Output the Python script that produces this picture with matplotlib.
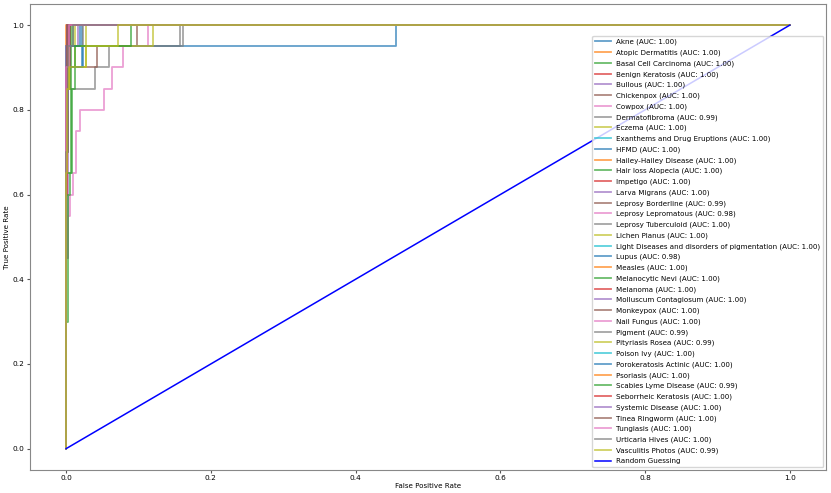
import matplotlib.pyplot as plt

classes = ['Akne', 'Atopic Dermatitis', 'Basal Cell Carcinoma', 'Benign Keratosis', 'Bullous',
           'Chickenpox', 'Cowpox', 'Dermatofibroma', 'Eczema', 'Exanthems and Drug Eruptions',
           'HFMD', 'Hailey-Hailey Disease', 'Hair loss Alopecia', 'Impetigo', 'Larva Migrans',
           'Leprosy Borderline', 'Leprosy Lepromatous', 'Leprosy Tuberculoid', 'Lichen Planus',
           'Light Diseases and disorders of pigmentation', 'Lupus', 'Measles', 'Melanocytic Nevi',
           'Melanoma', 'Molluscum Contagiosum', 'Monkeypox', 'Nail Fungus', 'Pigment',
           'Pityriasis Rosea', 'Poison Ivy', 'Porokeratosis Actinic', 'Psoriasis',
           'Scabies Lyme Disease', 'Seborrheic Keratosis', 'Systemic Disease', 'Tinea Ringworm',
           'Tungiasis', 'Urticaria Hives', 'Vasculitis Photos']

auc = [1.00, 1.00, 1.00, 1.00, 1.00, 1.00, 1.00, 0.99, 1.00, 1.00,
       1.00, 1.00, 1.00, 1.00, 1.00, 0.99, 0.98, 1.00, 1.00, 1.00,
       0.98, 1.00, 1.00, 1.00, 1.00, 1.00, 1.00, 0.99, 0.99, 1.00,
       1.00, 1.00, 0.99, 1.00, 1.00, 1.00, 1.00, 1.00, 0.99]

# roc corner points (fpr, tpr)
fpr = [
    [0, 0, 0.004, 0.004, 0.022, 0.022, 1],
    [0, 0, 0.001, 0.001, 1],
    [0, 0, 0.003, 0.003, 0.009, 0.009, 1],
    [0, 0, 0.002, 0.002, 0.005, 0.005, 1],
    [0, 0, 0.006, 0.006, 0.016, 0.016, 1],
    [0, 0, 0.001, 0.001, 1],
    [0, 0, 0.002, 0.002, 1],
    [0, 0, 0.003, 0.003, 0.04, 0.04, 0.059, 0.059, 0.157, 0.157, 1],
    [0, 0, 0.004, 0.004, 0.012, 0.012, 1],
    [0, 0, 0.001, 0.001, 1],
    [0, 0, 0.002, 0.002, 1],
    [0, 0, 0.001, 0.001, 1],
    [0, 0, 0.004, 0.004, 1],
    [0, 0, 0.001, 0.001, 0.003, 0.003, 1],
    [0, 0, 0.003, 0.003, 1],
    [0, 0, 0.002, 0.002, 0.043, 0.043, 0.098, 0.098, 1],
    [0, 0, 0.003, 0.003, 0.006, 0.006, 0.009, 0.009, 0.014, 0.014, 0.019, 0.019, 0.024, 0.024,
     0.052, 0.052, 0.064, 0.064, 0.078, 0.078, 0.113, 0.113, 1],
    [0, 0, 0.002, 0.002, 0.023, 0.023, 1],
    [0, 0, 0.005, 0.005, 0.028, 0.028, 1],
    [0, 0, 0.002, 0.002, 1],
    [0, 0, 0.002, 0.002, 0.023, 0.023, 0.456, 0.456, 1],
    [0, 0, 1],
    [0, 0, 0.007, 0.007, 1],
    [0, 0, 0.001, 0.001, 1],
    [0, 0, 0.002, 0.002, 0.004, 0.004, 1],
    [0, 0, 0.001, 0.001, 0.005, 0.005, 1],
    [0, 0, 0.003, 0.003, 1],
    [0, 0, 0.001, 0.001, 0.003, 0.003, 0.162, 0.162, 1],
    [0, 0, 0.004, 0.004, 0.12, 0.12, 1],
    [0, 0, 0.003, 0.003, 1],
    [0, 0, 0.001, 0.001, 0.019, 0.019, 1],
    [0, 0, 0.001, 0.001, 1],
    [0, 0, 0.003, 0.003, 0.006, 0.006, 0.008, 0.008, 0.012, 0.012, 0.09, 0.09, 1],
    [0, 0, 0.002, 0.002, 1],
    [0, 0, 0.001, 0.001, 1],
    [0, 0, 0.001, 0.001, 1],
    [0, 0, 0.004, 0.004, 1],
    [0, 0, 0.002, 0.002, 0.01, 0.01, 1],
    [0, 0, 0.001, 0.001, 0.004, 0.004, 0.028, 0.028, 0.072, 0.072, 1],
]
tpr = [
    [0, 0.85, 0.85, 0.9, 0.9, 1, 1],
    [0, 0.95, 0.95, 1, 1],
    [0, 0.9, 0.9, 0.95, 0.95, 1, 1],
    [0, 0.9, 0.9, 0.95, 0.95, 1, 1],
    [0, 0.85, 0.85, 0.95, 0.95, 1, 1],
    [0, 0.9, 0.9, 1, 1],
    [0, 0.95, 0.95, 1, 1],
    [0, 0.7, 0.7, 0.85, 0.85, 0.9, 0.9, 0.95, 0.95, 1, 1],
    [0, 0.85, 0.85, 0.9, 0.9, 1, 1],
    [0, 0.95, 0.95, 1, 1],
    [0, 0.9, 0.9, 1, 1],
    [0, 0.95, 0.95, 1, 1],
    [0, 0.9, 0.9, 1, 1],
    [0, 0.7, 0.7, 0.95, 0.95, 1, 1],
    [0, 0.45, 0.45, 1, 1],
    [0, 0.7, 0.7, 0.9, 0.9, 0.95, 0.95, 1, 1],
    [0, 0.45, 0.45, 0.55, 0.55, 0.6, 0.6, 0.65, 0.65, 0.75, 0.75, 0.8, 0.8, 0.8,
     0.8, 0.85, 0.85, 0.9, 0.9, 0.95, 0.95, 1, 1],
    [0, 0.9, 0.9, 0.95, 0.95, 1, 1],
    [0, 0.85, 0.85, 0.9, 0.9, 1, 1],
    [0, 0.85, 0.85, 1, 1],
    [0, 0.85, 0.85, 0.9, 0.9, 0.95, 0.95, 1, 1],
    [0, 1, 1],
    [0, 0.65, 0.65, 1, 1],
    [0, 0.6, 0.6, 1, 1],
    [0, 0.8, 0.8, 0.95, 0.95, 1, 1],
    [0, 0.75, 0.75, 0.9, 0.9, 1, 1],
    [0, 0.85, 0.85, 1, 1],
    [0, 0.7, 0.7, 0.85, 0.85, 0.95, 0.95, 1, 1],
    [0, 0.85, 0.85, 0.95, 0.95, 1, 1],
    [0, 0.95, 0.95, 1, 1],
    [0, 0.9, 0.9, 0.95, 0.95, 1, 1],
    [0, 0.85, 0.85, 1, 1],
    [0, 0.3, 0.3, 0.6, 0.6, 0.65, 0.65, 0.85, 0.85, 0.95, 0.95, 1, 1],
    [0, 0.9, 0.9, 1, 1],
    [0, 0.95, 0.95, 1, 1],
    [0, 0.7, 0.7, 1, 1],
    [0, 0.9, 0.9, 1, 1],
    [0, 0.7, 0.7, 0.95, 0.95, 1, 1],
    [0, 0.65, 0.65, 0.85, 0.85, 0.9, 0.9, 0.95, 0.95, 1, 1],
]

plt.rcParams['font.size'] = 5.1

fig, ax = plt.subplots(figsize=(8.31, 4.93), dpi=100)
fig.subplots_adjust(left=0.036, right=0.994, bottom=0.047, top=0.992)

for i in range(len(classes)):
    ax.plot(fpr[i], tpr[i], lw=1.3, alpha=0.7,
            label=classes[i] + ' (AUC: ' + format(auc[i], '.2f') + ')')

ax.plot([0, 1], [0, 1], color='blue', lw=1.1, label='Random Guessing')

ax.set_xlim(-0.05, 1.05)
ax.set_ylim(-0.05, 1.05)
ax.set_xlabel('False Positive Rate', fontsize=5.1, labelpad=1)
ax.set_ylabel('True Positive Rate', fontsize=5.1, labelpad=2)
ax.tick_params(labelsize=5.3, length=2.5, pad=1.5, color='#555555')
for s in ax.spines.values():
    s.set_color('#888888')
ax.legend(loc='lower right', fontsize=5.1, labelspacing=0.6, borderaxespad=0.4,
          handlelength=2.2)

plt.savefig('out.png')
